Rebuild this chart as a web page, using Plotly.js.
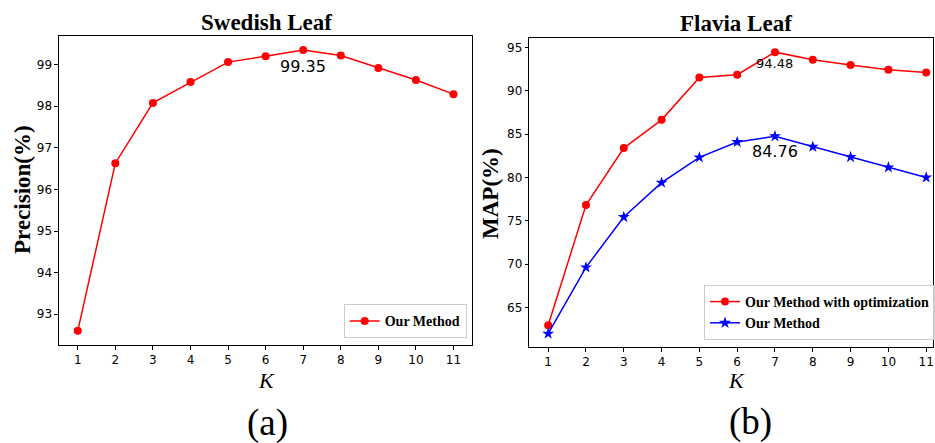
<!DOCTYPE html>
<html>
<head>
<meta charset="utf-8">
<script src="https://cdn.plot.ly/plotly-3.0.1.min.js"></script>
<style>html,body{margin:0;padding:0;background:#fff;}#chart{width:935px;height:443px;}</style>
</head>
<body>
<div id="chart"></div>
<script>
// ---- data ----
const K = [1, 2, 3, 4, 5, 6, 7, 8, 9, 10, 11];
const swedishPrecision = [92.60, 96.63, 98.08, 98.58, 99.06, 99.20, 99.35, 99.22, 98.92, 98.63, 98.29];
const flaviaOptimized = [62.92, 76.81, 83.40, 86.66, 91.56, 91.87, 94.48, 93.60, 93.00, 92.45, 92.14];
const flaviaOurMethod = [61.95, 69.62, 75.43, 79.40, 82.32, 84.10, 84.76, 83.55, 82.36, 81.17, 80.00];
const leftTicks = [93, 94, 95, 96, 97, 98, 99];
const rightTicks = [65, 70, 75, 80, 85, 90, 95];

const W = 935, H = 443;
const px = v => v / W;
const py = v => 1 - v / H;

function argmax(a) { let m = 0; a.forEach((v, i) => { if (v > a[m]) m = i; }); return m; }

const serif = "Liberation Serif, Times New Roman, serif";
const sans = "DejaVu Sans, sans-serif";

const traces = [
  { x: K, y: swedishPrecision, xaxis: 'x', yaxis: 'y', mode: 'lines+markers', name: 'Our Method',
    line: { color: '#ff0000', width: 1.5 }, marker: { color: '#ff0000', size: 8, symbol: 'circle' }, legend: 'legend' },
  { x: K, y: flaviaOptimized, xaxis: 'x2', yaxis: 'y2', mode: 'lines+markers', name: 'Our Method with optimization',
    line: { color: '#ff0000', width: 1.5 }, marker: { color: '#ff0000', size: 8, symbol: 'circle' }, legend: 'legend2' },
  { x: K, y: flaviaOurMethod, xaxis: 'x2', yaxis: 'y2', mode: 'lines+markers', name: 'Our Method',
    line: { color: '#0000ff', width: 1.5 }, marker: { color: '#0000ff', size: 9, symbol: 'star' }, legend: 'legend2' }
];

const axisCommon = {
  showline: true, linecolor: '#000', linewidth: 1, mirror: true,
  ticks: 'outside', ticklen: 3.5, tickwidth: 1, tickcolor: '#000',
  showgrid: false, zeroline: false,
  tickfont: { family: sans, size: 12, color: '#000' }
};

const iS = argmax(swedishPrecision), iO = argmax(flaviaOptimized), iM = argmax(flaviaOurMethod);

const layout = {
  width: W, height: H,
  margin: { l: 0, r: 0, t: 0, b: 0 },
  paper_bgcolor: '#fff', plot_bgcolor: '#fff',
  xaxis: Object.assign({}, axisCommon, { domain: [px(59.1), px(473.3)], range: [0.5, 11.5], tickvals: K, anchor: 'y' }),
  yaxis: Object.assign({}, axisCommon, { domain: [py(345), py(35.5)], range: [92.26, 99.70], tickvals: leftTicks, anchor: 'x' }),
  xaxis2: Object.assign({}, axisCommon, { domain: [px(530.4), 1], range: [0.5, 11.18], tickvals: K, anchor: 'y2' }),
  yaxis2: Object.assign({}, axisCommon, { domain: [py(347.3), py(37.7)], range: [60.38, 96.15], tickvals: rightTicks, anchor: 'x2' }),
  legend: {
    x: px(467.7), y: py(338.3), xanchor: 'right', yanchor: 'bottom',
    bgcolor: 'rgba(255,255,255,0.8)', bordercolor: '#cccccc', borderwidth: 1,
    font: { family: serif, size: 14, color: '#000', weight: 'bold' }
  },
  legend2: {
    x: px(705.5), y: py(340), xanchor: 'left', yanchor: 'bottom',
    bgcolor: 'rgba(255,255,255,0.8)', bordercolor: '#cccccc', borderwidth: 1,
    font: { family: serif, size: 14, color: '#000', weight: 'bold' }, tracegroupgap: 0
  },
  showlegend: true,
  annotations: [
    { text: '<b>Swedish Leaf</b>', xref: 'paper', yref: 'paper', x: px(267), y: py(22), xanchor: 'center', yanchor: 'middle', showarrow: false, font: { family: serif, size: 23, color: '#000' } },
    { text: '<b>Flavia Leaf</b>', xref: 'paper', yref: 'paper', x: px(738), y: py(24), xanchor: 'center', yanchor: 'middle', showarrow: false, font: { family: serif, size: 23, color: '#000' } },
    { text: '<b>Precision(%)</b>', xref: 'paper', yref: 'paper', x: px(22), y: py(189), xanchor: 'center', yanchor: 'middle', textangle: -90, showarrow: false, font: { family: serif, size: 23, color: '#000' } },
    { text: '<b>MAP(%)</b>', xref: 'paper', yref: 'paper', x: px(492), y: py(193), xanchor: 'center', yanchor: 'middle', textangle: -90, showarrow: false, font: { family: serif, size: 23, color: '#000' } },
    { text: '<i>K</i>', xref: 'paper', yref: 'paper', x: px(267), y: py(380), xanchor: 'center', yanchor: 'middle', showarrow: false, font: { family: serif, size: 22, color: '#000' } },
    { text: '<i>K</i>', xref: 'paper', yref: 'paper', x: px(738), y: py(380), xanchor: 'center', yanchor: 'middle', showarrow: false, font: { family: serif, size: 22, color: '#000' } },
    { text: '(a)', xref: 'paper', yref: 'paper', x: px(268), y: py(423), xanchor: 'center', yanchor: 'middle', showarrow: false, font: { family: serif, size: 37, color: '#000' } },
    { text: '(b)', xref: 'paper', yref: 'paper', x: px(752), y: py(422), xanchor: 'center', yanchor: 'middle', showarrow: false, font: { family: serif, size: 37, color: '#000' } },
    { text: swedishPrecision[iS].toFixed(2), xref: 'x', yref: 'y', x: K[iS], y: swedishPrecision[iS], yshift: -16, xanchor: 'center', yanchor: 'middle', showarrow: false, font: { family: sans, size: 16, color: '#000' } },
    { text: flaviaOptimized[iO].toFixed(2), xref: 'x2', yref: 'y2', x: K[iO], y: flaviaOptimized[iO], yshift: -11, xanchor: 'center', yanchor: 'middle', showarrow: false, font: { family: sans, size: 13, color: '#000' } },
    { text: flaviaOurMethod[iM].toFixed(2), xref: 'x2', yref: 'y2', x: K[iM], y: flaviaOurMethod[iM], yshift: -15, xanchor: 'center', yanchor: 'middle', showarrow: false, font: { family: sans, size: 16, color: '#000' } }
  ]
};

Plotly.newPlot('chart', traces, layout, { staticPlot: true, displayModeBar: false });
</script>
</body>
</html>
